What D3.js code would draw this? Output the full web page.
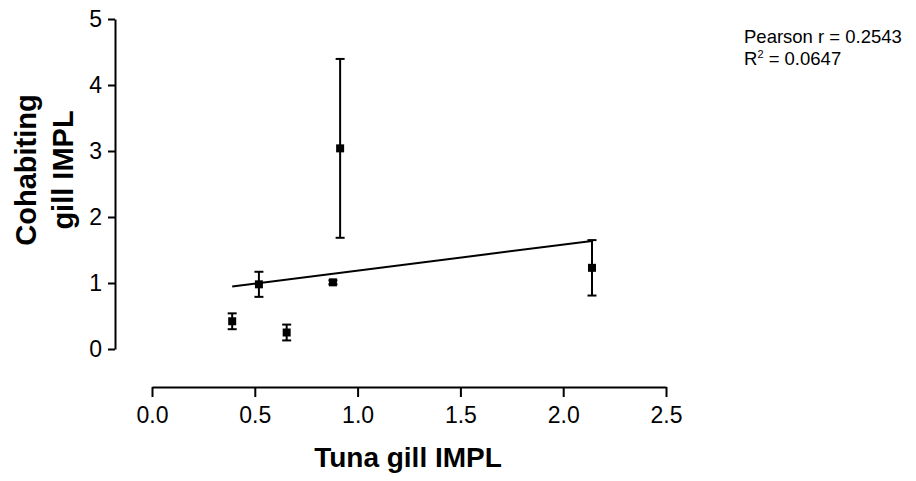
<!DOCTYPE html>
<html>
<head>
<meta charset="utf-8">
<script src="https://cdn.jsdelivr.net/npm/d3@7"></script>
<style>
  body { margin: 0; background: #fff; }
  svg { display: block; font-family: "Liberation Sans", Arial, sans-serif; }
</style>
</head>
<body>
<svg width="916" height="481"></svg>
<script>
// data
const tunaGill = [0.39, 0.52, 0.655, 0.88, 0.915, 2.14];
const cohabGill = [0.42, 0.98, 0.25, 1.01, 3.04, 1.23];
const cohabErr = [0.12, 0.19, 0.12, 0.03, 1.355, 0.42];
const xTicks = [0, 0.5, 1, 1.5, 2, 2.5];
const yTicks = [0, 1, 2, 3, 4, 5];
const statLines = ["Pearson r = 0.2543", "0.0647"];

const points = tunaGill.map((d, i) => ({ x: d, y: cohabGill[i], e: cohabErr[i] }));

const svg = d3.select("svg");

// prettier-ignore
const x = d3.scaleLinear()
    .domain([0, 2.5])
    .range([152, 666])

// prettier-ignore
const y = d3.scaleLinear()
    .domain([0, 5])
    .range([349, 19])

// x axis sits below and to the right of the y axis (offset axes)
const xAxis = svg
  .append("g")
  .attr("transform", "translate(0,387)")
  .call(d3.axisBottom(x).tickValues(xTicks).tickFormat(d3.format(".1f")).tickSize(10).tickSizeOuter(0).tickPadding(10));

const yAxis = svg
  .append("g")
  .attr("transform", "translate(115,0)")
  .call(d3.axisLeft(y).tickValues(yTicks).tickFormat(d3.format("d")).tickSize(7).tickSizeOuter(0).tickPadding(6));

[xAxis, yAxis].forEach((g) => {
  g.select(".domain").attr("stroke", "#000").attr("stroke-width", 2);
  g.selectAll(".tick line").attr("stroke", "#000").attr("stroke-width", 2);
  g.selectAll(".tick text").attr("fill", "#000").style("font-size", "23px");
});

// axis titles
svg
  .append("text")
  .attr("x", 408)
  .attr("y", 467)
  .attr("text-anchor", "middle")
  .style("font-size", "28px")
  .style("font-weight", "bold")
  .text("Tuna gill IMPL");

const yTitle = svg.append("g").attr("transform", "translate(0,170)");
yTitle
  .append("text")
  .attr("transform", "translate(36,0) rotate(-90)")
  .attr("text-anchor", "middle")
  .style("font-size", "29px")
  .style("font-weight", "bold")
  .text("Cohabiting");
yTitle
  .append("text")
  .attr("transform", "translate(73,0) rotate(-90)")
  .attr("text-anchor", "middle")
  .style("font-size", "29px")
  .style("font-weight", "bold")
  .text("gill IMPL");

// linear fit (least squares on the points)
const mx = d3.mean(points, (d) => d.x);
const my = d3.mean(points, (d) => d.y);
const slope =
  d3.sum(points, (d) => (d.x - mx) * (d.y - my)) / d3.sum(points, (d) => (d.x - mx) ** 2);
const intercept = my - slope * mx;
const xExt = d3.extent(points, (d) => d.x);

svg
  .append("path")
  .datum(xExt.map((v) => [v, intercept + slope * v]))
  .attr("fill", "none")
  .attr("stroke", "#000")
  .attr("stroke-width", 2)
  .attr("d", d3.line().x((d) => x(d[0])).y((d) => y(d[1])));

// error bars
const bars = svg.append("g").attr("stroke", "#000").attr("stroke-width", 2);
bars
  .selectAll("line.v")
  .data(points)
  .join("line")
  .attr("class", "v")
  .attr("x1", (d) => x(d.x))
  .attr("x2", (d) => x(d.x))
  .attr("y1", (d) => y(d.y + d.e))
  .attr("y2", (d) => y(d.y - d.e));
bars
  .selectAll("line.cap")
  .data(points.flatMap((d) => [{ x: d.x, v: d.y + d.e }, { x: d.x, v: d.y - d.e }]))
  .join("line")
  .attr("class", "cap")
  .attr("x1", (d) => x(d.x) - 4.5)
  .attr("x2", (d) => x(d.x) + 4.5)
  .attr("y1", (d) => y(d.v))
  .attr("y2", (d) => y(d.v));

// square markers
svg
  .append("g")
  .selectAll("rect")
  .data(points)
  .join("rect")
  .attr("x", (d) => x(d.x) - 4)
  .attr("y", (d) => y(d.y) - 4)
  .attr("width", 8)
  .attr("height", 8)
  .attr("fill", "#000");

// stats text
svg
  .append("text")
  .attr("x", 744)
  .attr("y", 43)
  .style("font-size", "18.5px")
  .text(statLines[0]);

const r2 = svg.append("text").attr("x", 744).attr("y", 65).style("font-size", "18.5px");
r2.append("tspan").text("R");
r2.append("tspan").attr("dy", -7).style("font-size", "11px").text("2");
r2.append("tspan").attr("dy", 7).text(" = " + statLines[1]);
</script>
</body>
</html>
